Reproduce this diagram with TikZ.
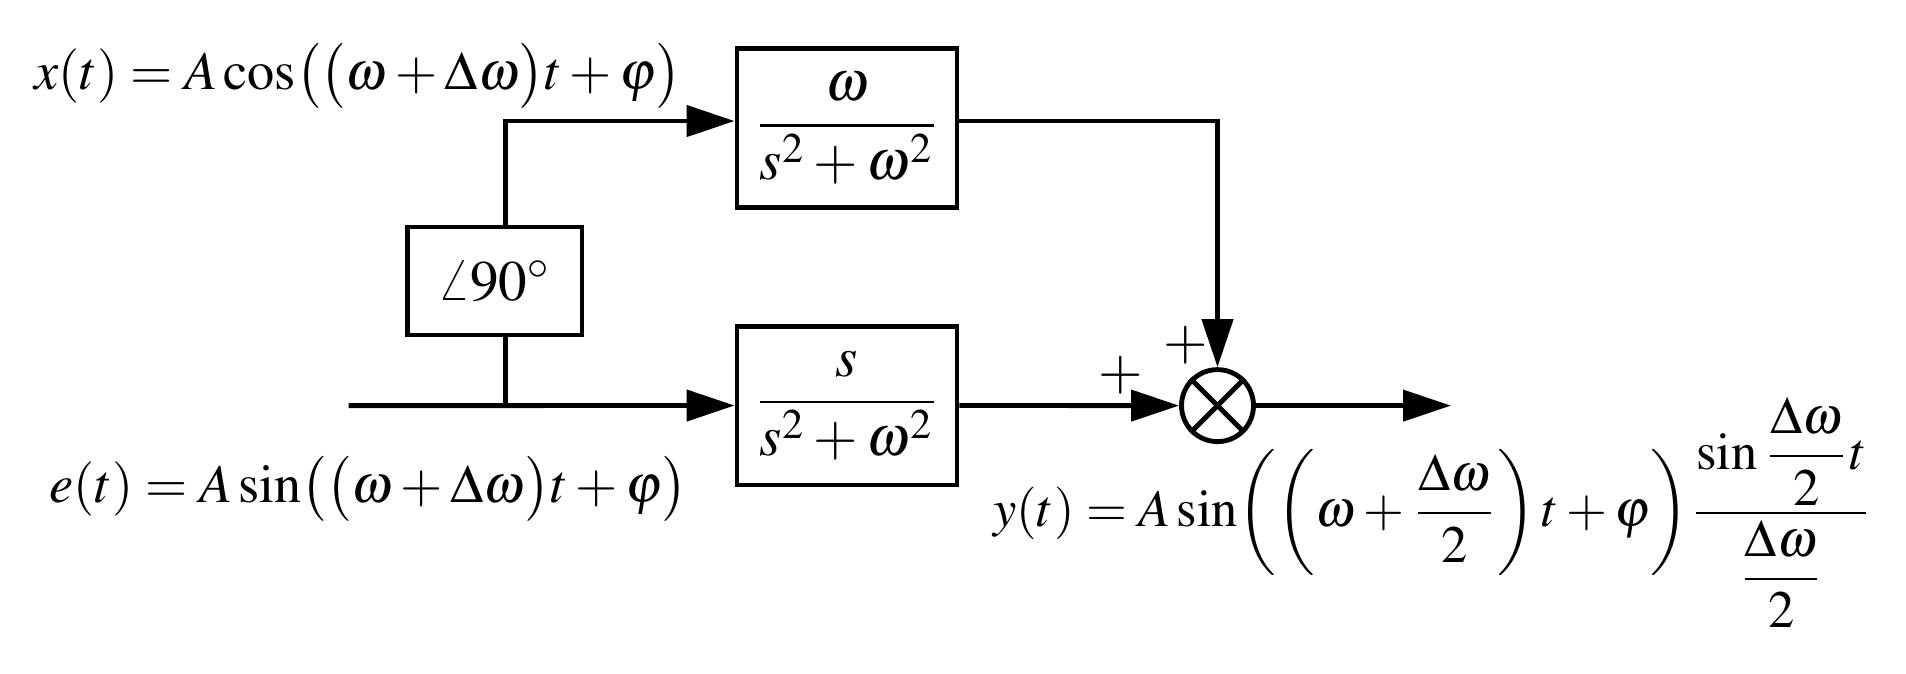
\documentclass[tikz,border=0pt]{standalone}
\usepackage{amsmath}
\usepackage{mathptmx}
\usetikzlibrary{arrows.meta}
\begin{document}
\begin{tikzpicture}[x=0.175pt,y=-0.175pt,
  line width=0.85pt,
  arr/.style={-{Triangle[length=8.4pt,width=5.4pt]}},
  blk/.style={draw,rectangle,inner sep=0pt,minimum width=38.5pt,minimum height=27.8pt},
  lbl/.style={inner sep=0pt,anchor=base west},
  every node/.style={font=\fontsize{10}{12}\selectfont}]
\useasboundingbox (0,0) rectangle (1906,673);
% blocks
\node[blk] (tb) at (847,128) {$\dfrac{\omega\rule[-3pt]{0pt}{3pt}}{s^{2}+\omega^{2}}$};
\node[blk] (bb) at (847,405.5) {$\dfrac{s\rule[-3pt]{0pt}{3pt}}{s^{2}+\omega^{2}}$};
\node[draw,inner sep=0pt,minimum width=30.6pt,minimum height=18.9pt] (ang) at (494.5,281) {$\angle 90^\circ$};
\node[draw,circle,inner sep=0pt,minimum size=12.6pt] (mul) at (1217.5,405.6) {};
\draw (mul.north west) -- (mul.south east);
\draw (mul.north east) -- (mul.south west);
% coordinates
\coordinate (in) at (348.5,405.6);
\coordinate (j) at (505.6,405.6);
\coordinate (jt) at (505.6,121);
\coordinate (out) at (1451,405.6);
% connectors
\draw[arr] (in) -- (bb.west);
\draw (j) -- (j |- ang.south);
\draw[arr] (j |- ang.north) -- (jt) -- (jt -| tb.west);
\draw[arr] (jt -| tb.east) -- (jt -| mul.north) -- (mul.north);
\draw[arr] (bb.east) -- (mul.west);
\draw[arr] (mul.east) -- (out);
% signs
\node[inner sep=0pt] (p1) at (1186,345.5) {$+$};
\node[inner sep=0pt] (p2) at (1121,375.5) {$+$};
% signals
\node[lbl,font=\fontsize{9.5}{11}\selectfont] (xt) at (32,89) {$x(t) = A\cos\bigl(\bigl(\omega+\Delta\omega\bigr)t+\varphi\bigr)$};
\node[lbl,font=\fontsize{9.5}{11}\selectfont] (et) at (47,502) {$e(t) = A\sin\bigl(\bigl(\omega+\Delta\omega\bigr)t+\varphi\bigr)$};
\node[lbl,font=\fontsize{9.2}{11}\selectfont] (yt) at (991,526) {$y(t) = A\sin\biggl(\left(\omega+\dfrac{\Delta\omega}{2}\right)t+\varphi\biggr)\dfrac{\sin\dfrac{\Delta\omega}{2}t}{\dfrac{\Delta\omega}{2}}$};
\end{tikzpicture}
\end{document}
